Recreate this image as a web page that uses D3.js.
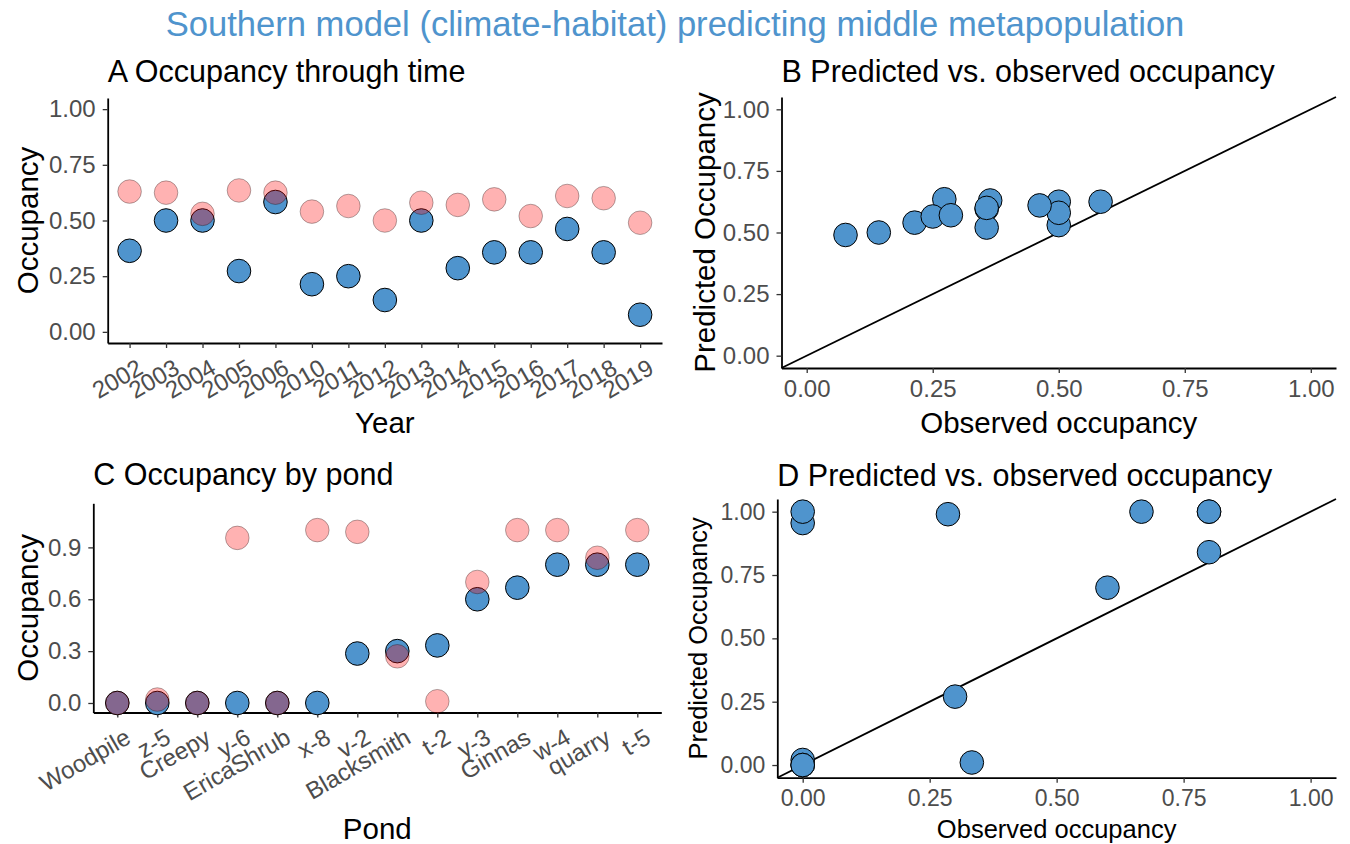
<!DOCTYPE html>
<html>
<head>
<meta charset="utf-8">
<script src="https://cdn.jsdelivr.net/npm/d3@7"></script>
<style>
  body { margin: 0; background: #fff; }
  text { font-family: "Liberation Sans", Arial, sans-serif; }
</style>
</head>
<body>
<svg id="chart" width="1350" height="844"></svg>
<script>
// data
var years = ["2002","2003","2004","2005","2006","2010","2011","2012","2013","2014","2015","2016","2017","2018","2019"];
var obsYear  = [0.364, 0.5, 0.5, 0.273, 0.583, 0.214, 0.25, 0.143, 0.5, 0.286, 0.357, 0.357, 0.462, 0.357, 0.077];
var predYear = [0.63, 0.625, 0.53, 0.635, 0.625, 0.54, 0.565, 0.50, 0.58, 0.57, 0.595, 0.52, 0.61, 0.60, 0.49];

var ponds = ["Woodpile","z-5","Creepy","y-6","EricaShrub","x-8","v-2","Blacksmith","t-2","y-3","Ginnas","w-4","quarry","t-5"];
var obsPond  = [0, 0, 0, 0, 0, 0, 0.286, 0.30, 0.333, 0.60, 0.667, 0.80, 0.80, 0.80];
var predPond = [0, 0.02, 0, 0.955, 0, 1.0, 0.99, 0.27, 0.01, 0.70, 1.0, 1.0, 0.84, 1.0];

var occTicks = [0, 0.25, 0.5, 0.75, 1];
var pondTicks = [0, 0.3, 0.6, 0.9];

var blue = "#4F94CD";
var svg = d3.select("#chart");
svg.append("rect").attr("width", 1350).attr("height", 844).attr("fill", "#fff");

svg.append("text")
  .attr("x", 675).attr("y", 36)
  .attr("text-anchor", "middle")
  .attr("font-size", 34.6)
  .attr("fill", blue)
  .text("Southern model (climate-habitat) predicting middle metapopulation");

function styleAxis(g, fs) {
  g.select(".domain").attr("stroke", "#000").attr("stroke-width", 1.8);
  g.selectAll(".tick line").attr("stroke", "#333").attr("stroke-width", 1.3);
  g.selectAll(".tick text").attr("fill", "#4D4D4D").attr("font-size", fs);
}

function panel(p) {
  var g = svg.append("g");
  var x = p.x, y = p.y;

  // axes
  var yAxis = d3.axisLeft(y).tickValues(p.yTicks).tickFormat(d3.format(p.yFmt))
      .tickSize(5).tickPadding(7).tickSizeOuter(0);
  var gy = g.append("g").attr("transform", "translate(" + p.left + ",0)").call(yAxis);
  styleAxis(gy, p.tickFs);

  var xAxis = d3.axisBottom(x).tickSize(5).tickPadding(7).tickSizeOuter(0);
  if (p.xTicks) xAxis.tickValues(p.xTicks).tickFormat(d3.format(".2f"));
  var gx = g.append("g").attr("transform", "translate(0," + p.bottom + ")").call(xAxis);
  styleAxis(gx, p.tickFs);
  if (p.rotate) {
    gx.selectAll(".tick text")
      .attr("y", 0).attr("dy", "0.8em")
      .attr("text-anchor", "end")
      .attr("transform", "translate(5,13) rotate(-30)");
  }

  // 1:1 line
  if (p.abline) {
    g.append("line")
      .attr("x1", x(-0.05)).attr("y1", y(-0.05))
      .attr("x2", x(1.05)).attr("y2", y(1.05))
      .attr("stroke", "#000").attr("stroke-width", 1.8);
  }

  // observed points
  g.selectAll("circle.obs").data(p.obs).enter().append("circle")
    .attr("class", "obs")
    .attr("cx", function(d) { return x(d[0]); })
    .attr("cy", function(d) { return y(d[1]); })
    .attr("r", 11.8)
    .attr("fill", blue).attr("stroke", "#000").attr("stroke-width", 1);

  // predicted points (red, alpha .3), drawn on top
  if (p.pred) {
    g.selectAll("circle.pred").data(p.pred).enter().append("circle")
      .attr("class", "pred")
      .attr("cx", function(d) { return x(d[0]); })
      .attr("cy", function(d) { return y(d[1]); })
      .attr("r", 11.8)
      .attr("fill", "red").attr("fill-opacity", 0.3)
      .attr("stroke", "#000").attr("stroke-opacity", 0.3).attr("stroke-width", 1);
  }

  // titles
  g.append("text").attr("x", p.left).attr("y", p.titleY)
    .attr("font-size", 30.5).attr("fill", "#000").text(p.title);

  var cx = (p.left + p.right) / 2, cy = (p.top + p.bottom) / 2;
  g.append("text").attr("x", cx).attr("y", p.xLabY)
    .attr("text-anchor", "middle").attr("font-size", p.labFs).attr("fill", "#000")
    .text(p.xLab);
  g.append("text")
    .attr("transform", "translate(" + p.yLabX + "," + cy + ") rotate(-90)")
    .attr("text-anchor", "middle").attr("font-size", p.labFs).attr("fill", "#000")
    .text(p.yLab);
}

// A
var aLeft = 107.7, aRight = 662, aTop = 98, aBottom = 343;
panel({
  left: aLeft, right: aRight, top: aTop, bottom: aBottom,
  x: d3.scalePoint().domain(years).range([aLeft, aRight]).padding(0.6),
  y: d3.scaleLinear().domain([-0.05, 1.05]).range([aBottom, aTop]),
  yTicks: occTicks, yFmt: ".2f", tickFs: 24, rotate: true,
  obs: years.map(function(d, i) { return [d, obsYear[i]]; }),
  pred: years.map(function(d, i) { return [d, predYear[i]]; }),
  title: "A Occupancy through time", titleY: 82,
  xLab: "Year", xLabY: 433, yLab: "Occupancy", yLabX: 38, labFs: 29.5
});

// B
var bLeft = 781.5, bRight = 1336, bTop = 97, bBottom = 368;
panel({
  left: bLeft, right: bRight, top: bTop, bottom: bBottom,
  x: d3.scaleLinear().domain([-0.05, 1.05]).range([bLeft, bRight]),
  y: d3.scaleLinear().domain([-0.05, 1.05]).range([bBottom, bTop]),
  yTicks: occTicks, yFmt: ".2f", xTicks: occTicks, tickFs: 24, abline: true,
  obs: obsYear.map(function(d, i) { return [d, predYear[i]]; }),
  title: "B Predicted vs. observed occupancy", titleY: 82,
  xLab: "Observed occupancy", xLabY: 433, yLab: "Predicted Occupancy", yLabX: 715, labFs: 29.5
});

// C
var cLeft = 93.3, cRight = 661.3, cTop = 503.3, cBottom = 712.5;
panel({
  left: cLeft, right: cRight, top: cTop, bottom: cBottom,
  x: d3.scalePoint().domain(ponds).range([cLeft, cRight]).padding(0.6),
  y: d3.scaleLinear().domain([-0.055, 1.155]).range([cBottom, cTop]),
  yTicks: pondTicks, yFmt: ".1f", tickFs: 24, rotate: true,
  obs: ponds.map(function(d, i) { return [d, obsPond[i]]; }),
  pred: ponds.map(function(d, i) { return [d, predPond[i]]; }),
  title: "C Occupancy by pond", titleY: 485,
  xLab: "Pond", xLabY: 839, yLab: "Occupancy", yLabX: 38, labFs: 29.5
});

// D
var dLeft = 777.3, dRight = 1336, dTop = 499, dBottom = 777.7;
panel({
  left: dLeft, right: dRight, top: dTop, bottom: dBottom,
  x: d3.scaleLinear().domain([-0.05, 1.05]).range([dLeft, dRight]),
  y: d3.scaleLinear().domain([-0.05, 1.05]).range([dBottom, dTop]),
  yTicks: occTicks, yFmt: ".2f", xTicks: occTicks, tickFs: 23, abline: true,
  obs: obsPond.map(function(d, i) { return [d, predPond[i]]; }),
  title: "D Predicted vs. observed occupancy", titleY: 486,
  xLab: "Observed occupancy", xLabY: 838, yLab: "Predicted Occupancy", yLabX: 707, labFs: 25.5
});
</script>
</body>
</html>
